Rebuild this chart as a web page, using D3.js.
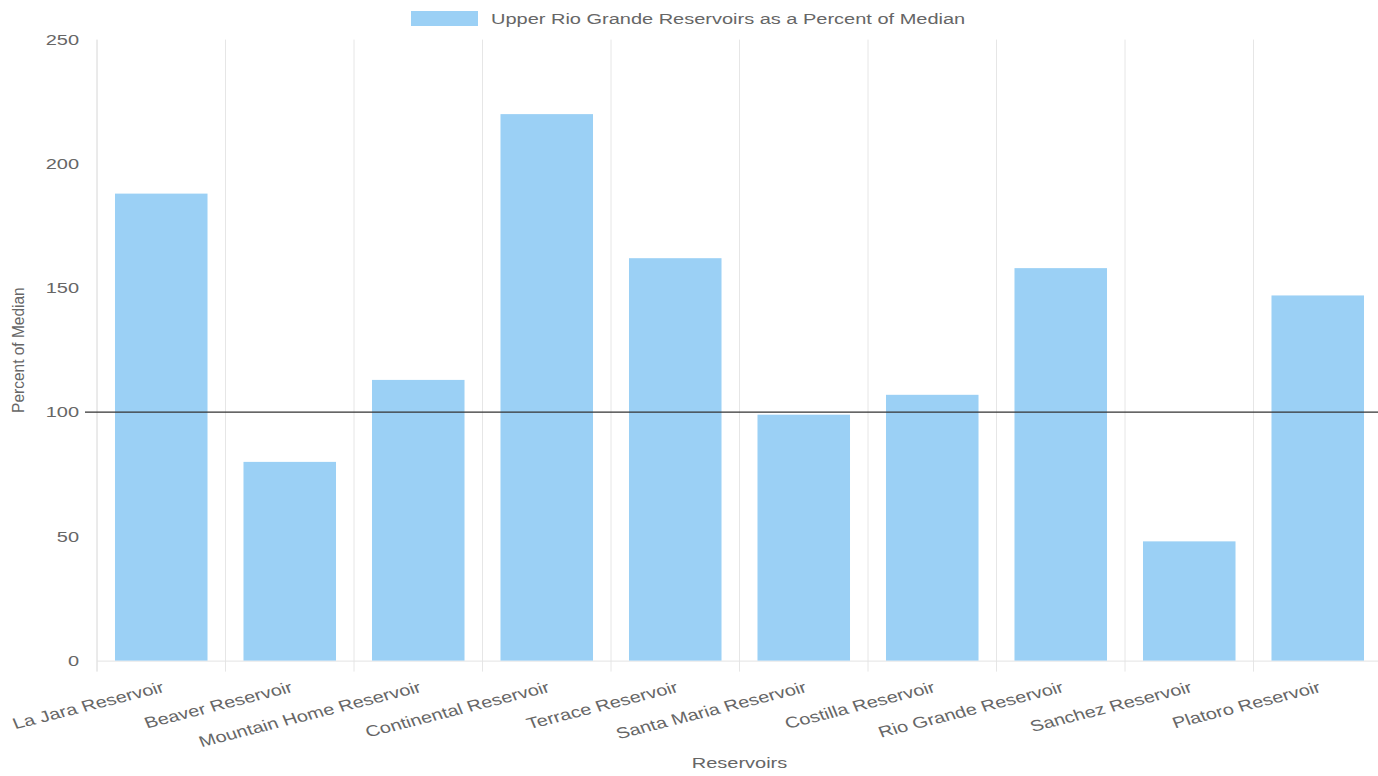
<!DOCTYPE html>
<html>
<head>
<meta charset="utf-8">
<script src="https://cdn.jsdelivr.net/npm/d3@7"></script>
<style>
  html, body { margin: 0; padding: 0; background: #fff; }
  svg { display: block; font-family: "Liberation Sans", Arial, Helvetica, sans-serif; }
</style>
</head>
<body>
<svg id="chart" width="1378" height="776"></svg>
<script>
// Reservoir storage as a percent of median
const reservoirs = [
  "La Jara Reservoir", "Beaver Reservoir", "Mountain Home Reservoir",
  "Continental Reservoir", "Terrace Reservoir", "Santa Maria Reservoir",
  "Costilla Reservoir", "Rio Grande Reservoir", "Sanchez Reservoir",
  "Platoro Reservoir"
];
const percentOfMedian = [188, 80, 113, 220, 162, 99, 107, 158, 48, 147];
const yTicks = [0, 50, 100, 150, 200, 250];
const medianLine = 100;
const seriesLabel = "Upper Rio Grande Reservoirs as a Percent of Median";
const xTitle = "Reservoirs";
const yTitle = "Percent of Median";

const W = 1378, H = 776;
const plot = { left: 97, right: 1382, top: 39.6, bottom: 660.6 };
const textColor = "#666";
const barColor = "#9bd0f5";
const fontSize = 15.5;
const sx = 1.29;       // horizontal text stretch
const labelAngle = 18;

const svg = d3.select("#chart");

const x = d3.scaleBand()
  .domain(reservoirs)
  .range([plot.left, plot.right])
  .paddingInner(0).paddingOuter(0);

const y = d3.scaleLinear()
  .domain([0, 250])
  .range([plot.bottom, plot.top]);

const barWidth = x.bandwidth() * 0.72;

// Vertical category grid lines (with tick marks below the axis)
const gridX = reservoirs.map(r => x(r)).concat([plot.right]);
svg.append("g").selectAll("line").data(gridX).join("line")
  .attr("x1", d => d).attr("x2", d => d)
  .attr("y1", plot.top).attr("y2", plot.bottom + 11)
  .attr("stroke", (d, i) => i === 0 ? "#d6d6d6" : "#e6e6e6")
  .attr("stroke-width", 1);

// x axis baseline
svg.append("line")
  .attr("x1", plot.left).attr("x2", plot.right)
  .attr("y1", y(0) + 0.5).attr("y2", y(0) + 0.5)
  .attr("stroke", "#e3e3e3").attr("stroke-width", 1);

// Bars
svg.append("g").selectAll("rect").data(reservoirs).join("rect")
  .attr("x", d => x(d) + (x.bandwidth() - barWidth) / 2)
  .attr("width", barWidth)
  .attr("y", (d, i) => y(percentOfMedian[i]))
  .attr("height", (d, i) => y(0) - y(percentOfMedian[i]))
  .attr("fill", barColor);

// Median (100%) reference line
svg.append("line")
  .attr("x1", plot.left - 12).attr("x2", W)
  .attr("y1", y(medianLine)).attr("y2", y(medianLine))
  .attr("stroke", "#333").attr("stroke-width", 1.3);

// y tick labels
svg.append("g").selectAll("text").data(yTicks).join("text")
  .attr("transform", d => `translate(79,${y(d)}) scale(${sx},1)`)
  .attr("text-anchor", "end")
  .attr("dominant-baseline", "central")
  .attr("font-size", fontSize)
  .attr("fill", textColor)
  .text(d => d);

// x tick labels, rotated
svg.append("g").selectAll("text").data(reservoirs).join("text")
  .attr("transform", d => `translate(${x(d) + x.bandwidth() / 2 + 2},${plot.bottom + 26}) scale(${sx},1) rotate(${-labelAngle})`)
  .attr("text-anchor", "end")
  .attr("dominant-baseline", "central")
  .attr("font-size", fontSize)
  .attr("fill", textColor)
  .text(d => d);

// Axis titles
svg.append("text")
  .attr("transform", `translate(${(plot.left + plot.right) / 2},763) scale(${sx},1)`)
  .attr("text-anchor", "middle")
  .attr("dominant-baseline", "central")
  .attr("font-size", fontSize)
  .attr("fill", textColor)
  .text(xTitle);

svg.append("text")
  .attr("transform", `translate(18,${(plot.top + plot.bottom) / 2}) scale(1.05,1) rotate(-90)`)
  .attr("text-anchor", "middle")
  .attr("dominant-baseline", "central")
  .attr("font-size", fontSize)
  .attr("fill", textColor)
  .text(yTitle);

// Legend
const legend = svg.append("g");
legend.append("rect")
  .attr("x", 411).attr("y", 11).attr("width", 67).attr("height", 15)
  .attr("fill", barColor);
legend.append("text")
  .attr("transform", `translate(491,18.5) scale(${sx},1)`)
  .attr("dominant-baseline", "central")
  .attr("font-size", fontSize)
  .attr("fill", textColor)
  .text(seriesLabel);
</script>
</body>
</html>
